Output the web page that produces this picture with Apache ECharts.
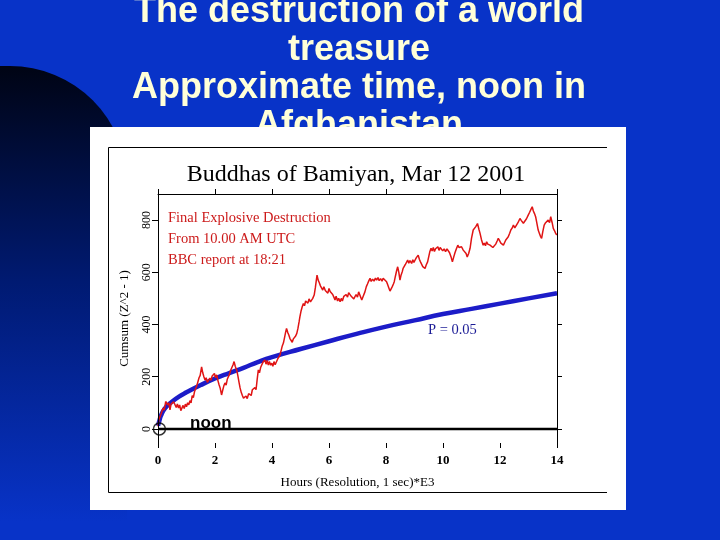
<!DOCTYPE html>
<html><head><meta charset="utf-8">
<script src="https://cdn.jsdelivr.net/npm/echarts@6/dist/echarts.min.js"></script>
<style>html,body{margin:0;padding:0;background:#0833c8}#c{width:720px;height:540px}</style>
</head><body><div id="c"></div>
<script>
const slideTitle = ['The destruction of a world', 'treasure', 'Approximate time, noon in', 'Afghanistan'];
const chartTitle = 'Buddhas of Bamiyan, Mar 12 2001';
const noteLines = ['Final Explosive Destruction', 'From 10.00 AM UTC', 'BBC report at 18:21'];
const pLabel = 'P = 0.05';
const noonLabel = 'noon';
const xName = 'Hours (Resolution, 1 sec)*E3';
const yName = 'Cumsum (Z^2 - 1)';
const yTicks = [0, 200, 400, 600, 800];
const noonMarker = [[0.05, 0]];
const baseline = [[0, 0], [14, 0]];
const envelope = [[0,12],[0.05,32],[0.1,50],[0.25,80],[0.5,105],[0.75,125],[1,140],[1.5,168],[2,193],[2.5,214],[3,234],[3.5,256],[4,275],[5,306],[6,336],[7,365],[8,392],[9,416],[10,440],[11,460],[12,480],[13,500],[14,520]];
const redCurve = [
[0.00,10],[0.03,35],[0.06,28],[0.10,55],[0.14,48],[0.18,80],[0.22,72],[0.27,105],[0.30,111],[0.34,92],[0.38,100],[0.42,73],[0.46,95],[0.50,88],[0.55,104],[0.60,99],[0.64,82],[0.68,96],[0.72,80],[0.76,92],[0.80,70],[0.84,76],[0.88,90],[0.92,78],[0.96,95],
[1.00,85],[1.04,100],[1.08,92],[1.12,108],[1.16,100],[1.20,128],[1.24,120],[1.28,142],[1.32,135],[1.36,165],[1.40,172],[1.44,196],[1.48,205],[1.53,238],[1.57,215],[1.61,200],[1.65,187],[1.69,196],[1.73,178],[1.77,181],[1.82,195],[1.86,186],[1.90,203],[1.94,200],[1.98,212],
[2.02,196],[2.06,207],[2.10,186],[2.14,170],[2.18,157],[2.23,130],[2.27,148],[2.31,165],[2.35,176],[2.39,168],[2.43,190],[2.47,195],[2.51,210],[2.55,225],[2.59,218],[2.63,245],[2.67,258],[2.71,240],[2.76,226],[2.80,205],[2.84,180],[2.88,157],[2.92,140],[2.96,128],
[3.00,118],[3.05,111],[3.09,126],[3.13,116],[3.18,135],[3.23,138],[3.27,128],[3.31,150],[3.35,145],[3.40,158],[3.44,150],[3.48,190],[3.52,226],[3.56,215],[3.60,235],[3.64,228],[3.68,255],[3.72,250],[3.75,264],[3.79,248],[3.83,262],[3.87,245],[3.91,258],[3.95,244],[3.99,252],
[4.03,240],[4.07,258],[4.11,246],[4.16,252],[4.20,268],[4.24,262],[4.28,283],[4.32,300],[4.36,318],[4.40,329],[4.44,350],[4.48,372],[4.51,385],[4.55,370],[4.59,360],[4.63,346],[4.67,340],[4.71,332],[4.75,345],[4.79,338],[4.83,356],[4.87,366],[4.91,385],[4.95,410],[4.98,430],
[5.02,452],[5.06,468],[5.10,480],[5.14,472],[5.18,490],[5.22,494],[5.26,482],[5.30,498],[5.35,487],[5.39,487],[5.43,500],[5.48,513],[5.52,540],[5.55,565],[5.58,589],[5.62,570],[5.66,560],[5.70,548],[5.74,545],[5.78,532],[5.82,545],[5.87,530],[5.92,532],[5.96,520],
[6.00,538],[6.04,526],[6.09,532],[6.13,515],[6.17,505],[6.21,494],[6.25,508],[6.30,490],[6.34,500],[6.39,487],[6.43,500],[6.47,490],[6.52,508],[6.56,501],[6.60,515],[6.65,505],[6.69,522],[6.74,520],[6.78,508],[6.82,515],[6.87,498],[6.91,500],[6.95,515],
[7.00,505],[7.04,525],[7.09,520],[7.15,494],[7.20,508],[7.26,525],[7.31,545],[7.35,555],[7.40,568],[7.44,577],[7.48,565],[7.53,574],[7.58,566],[7.63,578],[7.67,570],[7.72,580],[7.76,568],[7.81,576],[7.86,566],[7.90,577],[7.95,570],
[8.02,564],[8.06,552],[8.10,540],[8.14,528],[8.18,532],[8.22,545],[8.26,555],[8.29,564],[8.33,585],[8.37,605],[8.41,621],[8.45,600],[8.49,570],[8.53,590],[8.57,602],[8.60,615],[8.64,608],[8.68,630],[8.72,625],[8.76,647],[8.80,635],[8.84,645],[8.90,634],[8.94,648],[8.98,638],
[9.02,647],[9.06,655],[9.10,648],[9.13,666],[9.17,650],[9.21,640],[9.25,634],[9.29,622],[9.33,618],[9.37,615],[9.41,628],[9.46,640],[9.50,660],[9.54,680],[9.58,692],[9.62,682],[9.66,695],[9.70,680],[9.74,690],[9.78,685],[9.82,698],[9.86,684],[9.90,695],[9.95,692],[9.99,682],
[10.04,690],[10.09,679],[10.14,690],[10.19,692],[10.23,675],[10.28,660],[10.33,640],[10.38,660],[10.42,675],[10.47,690],[10.52,704],[10.56,695],[10.60,692],[10.65,698],[10.71,685],[10.76,690],[10.81,672],[10.85,659],[10.90,672],[10.95,692],
[11.00,730],[11.06,762],[11.10,755],[11.15,775],[11.21,787],[11.26,765],[11.30,749],[11.35,725],[11.41,704],[11.45,712],[11.49,702],[11.53,717],[11.57,708],[11.61,712],[11.65,704],[11.70,700],[11.75,695],[11.80,692],[11.85,708],[11.90,720],[11.94,730],[11.98,722],
[12.03,712],[12.08,718],[12.12,704],[12.17,716],[12.21,725],[12.25,720],[12.29,736],[12.34,750],[12.38,762],[12.43,770],[12.47,781],[12.52,770],[12.58,774],[12.63,790],[12.70,806],[12.75,798],[12.82,788],[12.88,793],[12.93,805],[12.99,819],
[13.04,830],[13.09,842],[13.13,851],[13.17,835],[13.21,825],[13.25,813],[13.29,790],[13.34,762],[13.38,750],[13.42,738],[13.46,730],[13.50,755],[13.55,781],[13.60,790],[13.64,785],[13.69,800],[13.74,790],[13.78,813],[13.83,790],[13.87,768],[13.91,760],[13.95,750],[13.99,743]
];

const SERIF = "'Liberation Serif','Times New Roman',serif";
const SANS = "'Liberation Sans',Arial,sans-serif";
const chart = echarts.init(document.getElementById('c'));

const graphics = [
  { type: 'rect', z: 0, shape: { x: -10, y: 66, width: 137, height: 480, r: [0, 117, 0, 0] },
    style: { fill: new echarts.graphic.LinearGradient(0, 0, 0, 1, [
      { offset: 0, color: '#000414' }, { offset: 0.45, color: '#001a72' }, { offset: 0.95, color: '#0833c8' }]) } }
];
slideTitle.forEach((t, i) => graphics.push({
  type: 'text', z: 0, x: 359, y: 12.5 + 38 * i,
  style: { text: t, fill: '#ffffd8', font: 'bold 36px ' + SANS, textAlign: 'center', textVerticalAlign: 'middle' }
}));
graphics.push(
  { type: 'rect', z: 0, shape: { x: 90, y: 127, width: 536, height: 383 }, style: { fill: '#ffffff' } },
  { type: 'polyline', z: 0, shape: { points: [[607, 147.5], [108.5, 147.5], [108.5, 492.5], [607, 492.5]] }, style: { stroke: '#000', lineWidth: 1, fill: null } },
  { type: 'text', z: 10, x: 356, y: 175, style: { text: chartTitle, fill: '#000', font: '24px ' + SERIF, textAlign: 'center', textVerticalAlign: 'middle' } },
  { type: 'text', z: 10, x: 428, y: 330, style: { text: pLabel, fill: '#1c1c96', font: '14.5px ' + SERIF, textAlign: 'left', textVerticalAlign: 'middle' } },
  { type: 'text', z: 10, x: 190, y: 423, style: { text: noonLabel, fill: '#000', font: 'bold 17px ' + SANS, textAlign: 'left', textVerticalAlign: 'middle' } }
);
noteLines.forEach((t, i) => graphics.push({
  type: 'text', z: 10, x: 168, y: 218 + 21 * i,
  style: { text: t, fill: '#cc1a1a', font: '14.5px ' + SERIF, textAlign: 'left', textVerticalAlign: 'middle' }
}));

const axisBase = { lineStyle: { color: '#000', width: 1 } };
chart.setOption({
  animation: false,
  backgroundColor: '#0833c8',
  graphic: graphics,
  grid: { left: 158, top: 194, width: 399, height: 249, containLabel: false },
  xAxis: [
    { type: 'value', min: 0, max: 14, interval: 2, position: 'bottom', z: 5,
      axisLine: { show: false, onZero: false },
      axisTick: { show: true, length: 5, lineStyle: { color: '#000' } },
      axisLabel: { color: '#000', fontFamily: SERIF, fontSize: 13, fontWeight: 'bold', margin: 11 },
      splitLine: { show: false },
      name: xName, nameLocation: 'middle', nameGap: 33,
      nameTextStyle: { color: '#000', fontFamily: SERIF, fontSize: 13 } },
    { type: 'value', min: 0, max: 14, interval: 2, position: 'top', z: 5,
      axisLine: Object.assign({ show: true, onZero: false }, axisBase),
      axisTick: { show: true, length: 5, lineStyle: { color: '#000' } },
      axisLabel: { show: false }, splitLine: { show: false } }
  ],
  yAxis: [
    { type: 'value', min: -54, max: 900, position: 'left', z: 5,
      axisLine: Object.assign({ show: true, onZero: false }, axisBase),
      axisTick: { show: true, length: 6, customValues: yTicks, lineStyle: { color: '#000' } },
      axisLabel: { customValues: yTicks, rotate: 90, margin: 5, color: '#000', fontFamily: SERIF, fontSize: 12 },
      splitLine: { show: false },
      name: yName, nameLocation: 'middle', nameGap: 27,
      nameTextStyle: { color: '#000', fontFamily: SERIF, fontSize: 13 } },
    { type: 'value', min: -54, max: 900, position: 'right', z: 5,
      axisLine: Object.assign({ show: true, onZero: false }, axisBase),
      axisTick: { show: true, length: 5, customValues: yTicks, lineStyle: { color: '#000' } },
      axisLabel: { show: false }, splitLine: { show: false } }
  ],
  series: [
    { type: 'line', data: baseline, symbol: 'none', lineStyle: { color: '#000', width: 2.5 }, z: 3 },
    { type: 'line', data: envelope, smooth: true, symbol: 'none', lineStyle: { color: '#1c1cc8', width: 4.5 }, z: 3 },
    { type: 'line', data: redCurve, symbol: 'none', lineStyle: { color: '#e01414', width: 1.5 }, z: 4 },
    { type: 'scatter', data: noonMarker, symbol: 'circle', symbolSize: 12, itemStyle: { color: 'rgba(0,0,0,0)', borderColor: '#000', borderWidth: 1.5 }, z: 6 }
  ]
});
</script></body></html>
